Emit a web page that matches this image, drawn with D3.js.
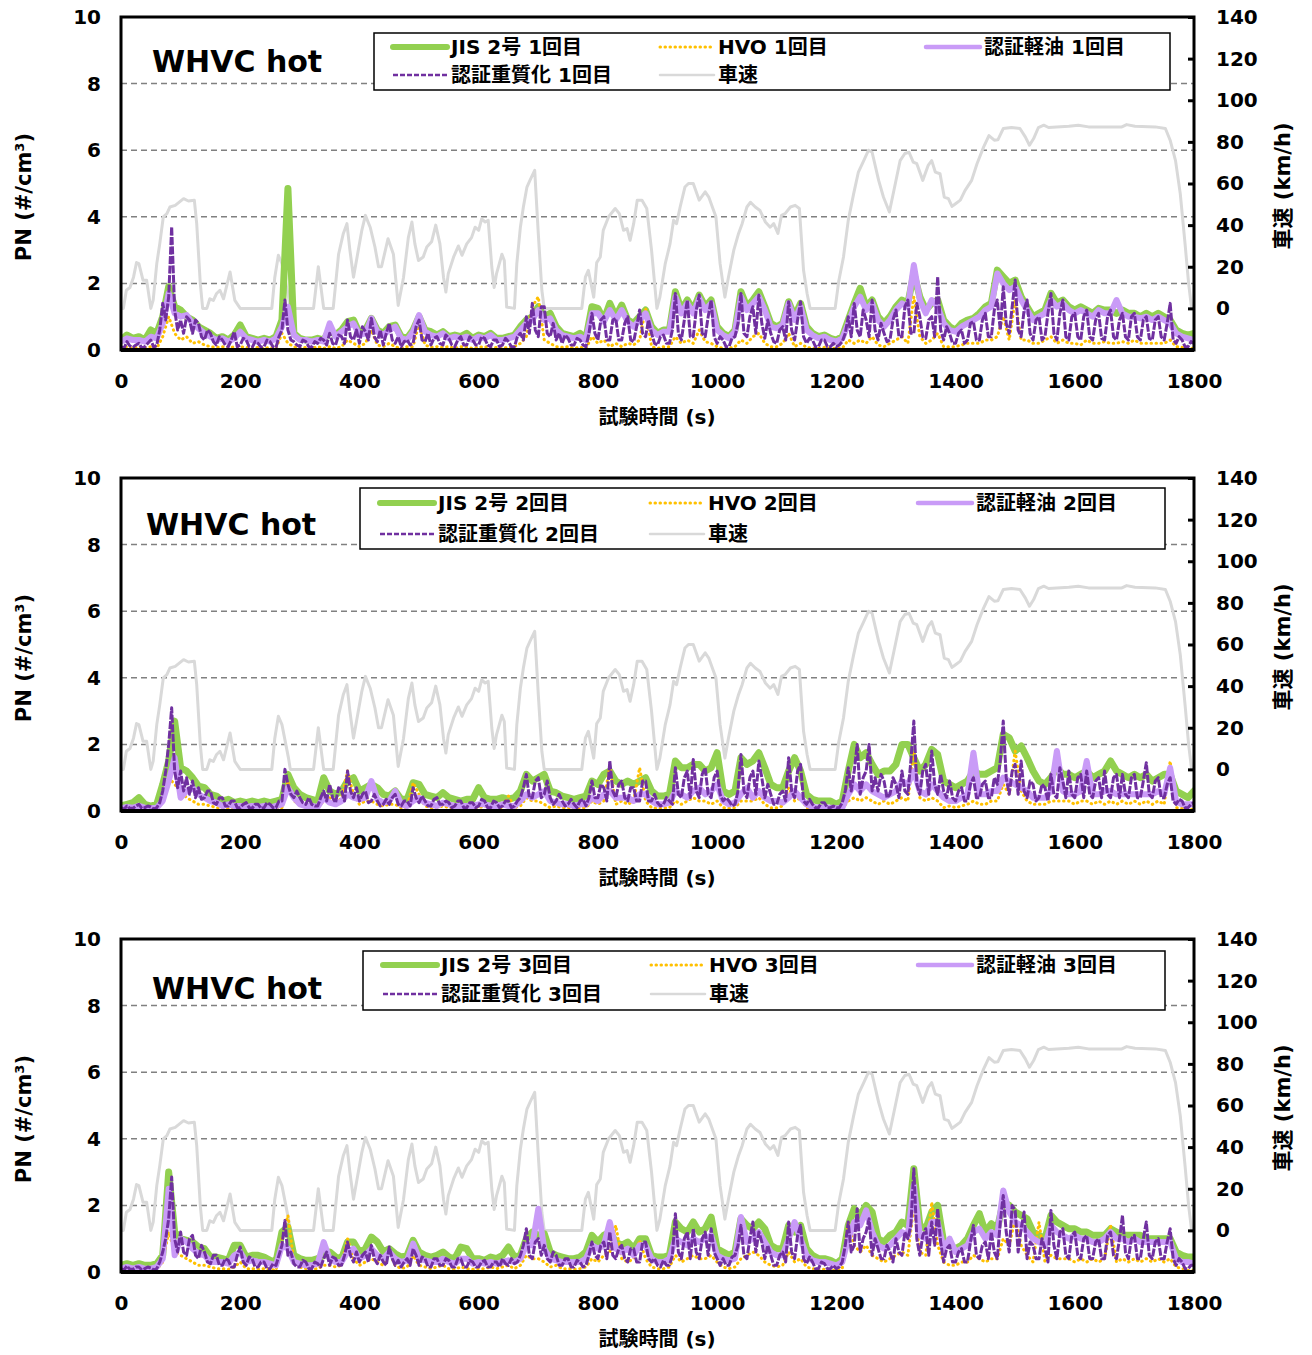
<!DOCTYPE html>
<html>
<head>
<meta charset="utf-8">
<script src="https://cdn.jsdelivr.net/npm/d3@7"></script>
<style>
  body { margin: 0; background: #fff; }
  text { font-family: "DejaVu Sans", "Noto Sans CJK JP", sans-serif; font-weight: bold; fill: #000; }
</style>
</head>
<body>
<svg id="chart" width="1312" height="1355"></svg>
<script>
// PN samples on an even grid over 0 .. 1800 s
// (10 s for most series, 5 s for the noisy 認証重質化 trace)
const T_END = 1800;

const timeTicks  = [0, 200, 400, 600, 800, 1000, 1200, 1400, 1600, 1800];
const pnTicks    = [0, 2, 4, 6, 8, 10];
const pnGrid     = [2, 4, 6, 8];
const speedTicks = [0, 20, 40, 60, 80, 100, 120, 140];

// WHVC vehicle speed, [time s, km/h] vertices
const speedTrace = [
  [0,0],[4,0],[9,8.7],[15,10],[21,15],[26,22],[30,21.5],[37,13.5],[43,13.5],[50,0],[54,4],[60,21.5],
  [65,31],[71,44],[77,45.5],[82,48.7],[91,49.5],[105,52.7],[113,51.6],[123,52],[127,40.7],[133,12],
  [137,0],[144,0],[149,4.6],[155,3.8],[160,7],[166,8.7],[172,4.6],[183,17.5],[191,3.8],[200,0],
  [253,0],[258,15],[264,25.5],[270,21.5],[281,5.4],[284,0],[323,0],[331,20],[340,0],[356,0],
  [365,26],[373,36],[379,40.7],[384,28],[390,15],[395,23],[404,37.5],[410,44.7],[418,39],[426,29.5],
  [432,20],[437,20],[448,33.5],[457,26],[465,1.4],[474,15],[482,34],[488,41.5],[493,31],[499,23],
  [507,24.7],[513,29.5],[521,32],[528,40],[535,31],[541,15],[545,7.9],[549,16.7],[558,24.7],[566,30],
  [572,25.5],[580,31],[588,34],[594,39],[600,37.5],[605,43],[611,41.5],[616,42.3],[622,20],[626,10],
  [630,16.7],[639,26],[643,23],[647,0.6],[660,0],[664,21.5],[670,39],[675,48.7],[681,58.3],[686,61.5],
  [694,66.3],[700,36],[706,8.7],[710,0],[773,0],[779,15],[784,18.3],[793,5.4],[798,22],[804,24.7],
  [809,37.5],[818,44],[829,48],[836,45.5],[843,37.5],[849,38.3],[854,32.7],[860,40.7],[866,52],[874,52],
  [882,48],[890,28],[899,0],[904,5.4],[913,21.5],[921,31],[927,42.3],[932,40.7],[938,48.7],[946,58.3],
  [952,60],[960,60],[970,52],[980,56],[986,53.5],[992,48.7],[998,44],[1005,21.5],[1013,5.4],[1019,15],
  [1028,28],[1036,36],[1042,40.7],[1050,48.7],[1056,51],[1064,48.7],[1072,47],[1081,41.5],[1089,39],
  [1095,40.7],[1102,36],[1108,44.7],[1114,45.5],[1123,48.7],[1131,49.5],[1138,48],[1145,18.3],[1151,7],
  [1156,0],[1198,0],[1204,13],[1212,24.7],[1220,42.3],[1229,55],[1237,65.5],[1246,71],[1254,76],[1260,75],
  [1271,61.5],[1279,53.5],[1289,46.3],[1299,60],[1307,71],[1315,74.4],[1322,75],[1329,70.3],[1335,69.5],
  [1345,61.5],[1354,68.7],[1360,71],[1366,65.5],[1374,64.7],[1381,53.5],[1388,52.7],[1394,49],[1400,50.3],
  [1408,52],[1416,56.7],[1427,61.5],[1436,69.5],[1447,77.5],[1456,83],[1465,80.8],[1471,81],[1480,86.4],
  [1494,86.9],[1508,86.4],[1517,82.4],[1524,78.4],[1531,81.6],[1539,86.9],[1548,88],[1556,86.9],[1590,87.5],
  [1606,88],[1623,87.2],[1679,87.2],[1687,88.3],[1701,87.5],[1735,87.2],[1752,86.4],[1760,80.8],[1769,71],
  [1777,55],[1785,31],[1791,11.9],[1796,0],[1800,0]
];

// ---- run 1 ----
const jis1 = [
  0.30,0.45,0.35,0.40,0.30,0.60,0.50,1.00,1.90,1.30,1.20,1.00,0.90,0.70,0.60,0.50,0.35,0.40,0.30,0.45,
  0.75,0.40,0.35,0.30,0.35,0.30,0.40,0.90,4.85,0.50,0.35,0.30,0.30,0.35,0.30,0.60,0.45,0.60,0.85,0.90,
  0.50,0.60,0.95,0.60,0.50,0.70,0.75,0.40,0.35,0.60,1.00,0.60,0.55,0.45,0.55,0.40,0.45,0.40,0.50,0.35,
  0.45,0.40,0.50,0.35,0.35,0.40,0.45,0.70,0.90,1.00,1.30,1.00,1.10,0.70,0.50,0.45,0.40,0.50,0.35,1.30,
  1.25,0.90,1.40,1.00,1.35,0.90,0.80,1.00,1.20,0.70,0.50,0.60,0.60,1.75,1.20,1.50,1.20,1.65,1.30,1.50,
  0.70,0.50,0.40,0.60,1.75,1.30,1.50,1.75,1.30,0.80,0.70,0.80,1.45,1.00,1.40,0.70,0.50,0.40,0.45,0.35,
  0.30,0.40,0.90,1.40,1.85,1.30,1.50,1.00,0.80,1.00,1.30,1.50,1.40,2.30,1.60,1.20,1.40,1.50,0.90,0.70,
  0.60,0.80,0.90,0.95,1.10,1.30,1.40,2.40,2.20,2.00,2.10,1.60,1.30,1.00,1.10,1.20,1.70,1.40,1.50,1.30,
  1.20,1.30,1.20,1.10,1.25,1.20,1.20,1.10,1.20,1.10,1.10,1.00,1.10,1.00,1.10,1.00,0.90,0.60,0.50,0.45,
  0.50
];
const hvo1 = [
  0.05,0.10,0.05,0.10,0.05,0.10,0.05,0.40,1.00,0.50,0.30,0.40,0.20,0.25,0.15,0.10,0.08,0.10,0.05,0.10,
  0.10,0.08,0.05,0.08,0.05,0.08,0.05,0.50,0.20,0.10,0.05,0.08,0.05,0.10,0.05,0.10,0.05,0.10,0.30,0.20,
  0.10,0.20,0.60,0.15,0.10,0.20,0.10,0.05,0.10,0.10,0.80,0.15,0.08,0.10,0.08,0.10,0.05,0.10,0.08,0.05,
  0.08,0.10,0.05,0.08,0.05,0.08,0.10,0.20,0.40,1.30,1.60,0.30,0.20,0.10,0.08,0.10,0.05,0.08,0.05,0.40,
  0.20,0.30,0.10,0.20,0.10,0.20,0.15,0.30,1.25,0.10,0.05,0.10,0.10,0.40,0.20,0.30,0.20,0.60,0.25,0.20,
  0.10,0.05,0.05,0.10,0.30,0.20,0.40,0.50,0.20,0.10,0.10,0.20,0.50,0.10,0.20,0.08,0.05,0.05,0.08,0.05,
  0.05,0.05,0.30,0.20,0.30,0.20,0.40,0.15,0.10,0.20,0.30,0.40,0.20,1.60,0.40,0.20,0.30,0.50,0.10,0.10,
  0.10,0.15,0.20,0.20,0.20,0.30,0.30,0.40,1.00,0.30,1.50,0.30,0.30,0.20,0.20,0.30,0.40,0.20,0.30,0.20,
  0.20,0.15,0.30,0.20,0.20,0.25,0.20,0.20,0.25,0.20,0.30,0.20,0.20,0.20,0.20,0.20,0.30,0.10,0.08,0.05,
  0.05
];
const kei1 = [
  0.25,0.35,0.30,0.30,0.25,0.40,0.35,0.80,1.70,1.10,1.00,1.05,0.80,0.65,0.50,0.40,0.30,0.35,0.25,0.35,
  0.55,0.35,0.30,0.25,0.30,0.25,0.35,0.70,1.30,0.45,0.30,0.30,0.25,0.30,0.25,0.80,0.40,0.55,0.70,0.80,
  0.45,0.50,0.95,0.55,0.45,0.60,0.70,0.35,0.30,0.55,1.05,0.55,0.45,0.40,0.50,0.35,0.40,0.35,0.40,0.30,
  0.40,0.35,0.45,0.30,0.30,0.35,0.40,0.60,0.80,0.90,1.20,0.90,0.95,0.60,0.45,0.40,0.35,0.40,0.30,1.10,
  1.10,0.85,1.20,0.90,1.20,0.85,0.70,0.90,1.10,0.60,0.45,0.55,0.55,1.60,1.10,1.40,1.10,1.55,1.20,1.40,
  0.60,0.45,0.35,0.55,1.60,1.20,1.40,1.60,1.20,0.70,0.65,0.75,1.40,0.90,1.30,0.60,0.45,0.35,0.40,0.30,
  0.25,0.35,0.80,1.30,1.60,1.20,1.40,0.90,0.70,0.90,1.20,1.40,1.30,2.55,1.50,1.10,1.50,1.30,0.80,0.60,
  0.55,0.70,0.80,0.90,1.00,1.20,1.30,2.30,2.00,1.80,1.90,1.50,1.20,0.90,1.00,1.10,1.50,1.30,1.40,1.20,
  1.10,1.20,1.10,1.00,1.20,1.10,1.10,1.50,1.10,1.00,1.00,0.95,1.00,0.90,1.00,0.90,0.80,0.50,0.40,0.35,
  0.30
];
const jyu1 = [
  0.10,0.05,0.25,0.12,0.08,0.15,0.20,0.06,0.10,0.20,0.30,0.08,0.15,0.60,1.40,0.90,1.60,3.70,1.20,0.60,
  0.90,0.50,1.00,0.90,0.50,0.90,0.80,0.40,0.30,0.60,0.50,0.25,0.15,0.40,0.30,0.15,0.10,0.30,0.55,0.10,
  0.15,0.35,0.30,0.10,0.08,0.25,0.20,0.08,0.10,0.30,0.25,0.10,0.08,0.40,0.60,1.50,0.60,0.30,0.25,0.15,
  0.10,0.30,0.25,0.10,0.08,0.25,0.20,0.35,0.30,0.15,0.50,0.20,0.15,0.45,0.40,0.20,0.90,0.40,0.30,0.60,
  0.20,0.70,0.55,0.30,0.95,0.40,0.25,0.60,0.15,0.50,0.80,0.30,0.20,0.40,0.10,0.25,0.30,0.15,0.20,0.70,
  0.90,0.30,0.25,0.50,0.15,0.35,0.40,0.20,0.15,0.45,0.35,0.15,0.10,0.30,0.40,0.15,0.15,0.40,0.30,0.15,
  0.15,0.40,0.35,0.15,0.10,0.30,0.30,0.10,0.15,0.35,0.25,0.10,0.10,0.40,0.50,0.30,1.00,0.50,1.40,0.60,
  0.40,1.30,1.30,0.50,0.40,0.80,0.30,0.50,0.20,0.45,0.35,0.15,0.15,0.35,0.30,0.15,0.10,0.50,1.10,0.50,
  0.30,0.90,1.00,0.30,0.30,0.90,0.95,0.30,0.30,0.80,1.00,0.30,0.25,0.70,1.20,0.50,0.40,0.90,0.50,0.20,
  0.15,0.40,0.45,0.20,0.20,0.60,1.70,0.50,0.30,0.90,1.50,0.40,0.40,1.20,1.65,0.50,0.40,1.00,1.50,0.40,
  0.20,0.40,0.30,0.10,0.10,0.35,0.40,0.80,1.70,0.50,0.40,1.00,1.30,0.50,1.65,0.80,0.35,0.90,0.50,0.25,
  0.20,0.60,0.70,0.30,1.45,0.60,0.30,0.90,1.45,0.40,0.20,0.35,0.30,0.10,0.10,0.30,0.30,0.10,0.10,0.20,
  0.10,0.15,0.25,0.50,1.00,0.40,1.40,0.60,0.40,1.20,0.90,0.40,1.50,0.60,0.30,0.80,0.50,0.25,0.30,0.90,
  1.20,0.40,0.40,1.30,1.50,0.50,0.50,1.40,1.00,0.40,0.35,0.90,1.00,0.40,2.20,0.60,0.30,0.70,0.50,0.20,
  0.20,0.50,0.60,0.20,0.30,0.80,0.85,0.30,0.30,0.90,1.10,0.40,0.40,1.20,1.50,0.60,1.90,0.80,0.50,1.30,
  2.10,0.60,0.40,1.20,1.50,0.50,0.30,0.90,1.00,0.30,0.40,1.10,1.70,0.50,0.30,1.10,1.50,0.40,0.30,1.00,
  1.10,0.40,0.30,1.00,1.20,0.40,0.30,0.90,1.10,0.35,0.30,1.00,1.20,0.40,0.30,0.90,1.10,0.40,0.30,1.00,
  1.10,0.40,0.30,0.90,1.00,0.35,0.30,0.90,1.00,0.40,0.30,0.80,1.40,0.30,0.20,0.40,0.30,0.10,0.10,0.25,
  0.20
];

// ---- run 2 ----
const jis2 = [
  0.15,0.20,0.25,0.40,0.20,0.15,0.20,0.80,1.50,2.70,1.30,1.20,1.00,0.75,0.70,0.50,0.45,0.30,0.35,0.25,
  0.30,0.25,0.30,0.25,0.30,0.25,0.30,0.35,1.10,0.70,0.50,0.40,0.35,0.30,1.00,0.60,0.50,0.60,0.90,1.00,
  0.60,0.70,0.80,0.70,0.50,0.45,0.60,0.35,0.35,0.85,0.80,0.50,0.45,0.40,0.55,0.40,0.35,0.30,0.35,0.35,
  0.70,0.40,0.35,0.35,0.40,0.35,0.40,0.60,1.10,0.90,1.00,1.10,0.60,0.55,0.45,0.40,0.35,0.40,0.45,0.90,
  0.80,1.10,1.20,0.90,0.80,0.90,0.80,0.90,1.00,0.60,0.45,0.45,0.50,1.50,1.30,1.30,1.40,1.40,1.20,1.30,
  1.75,0.60,0.50,0.60,1.60,1.40,1.50,1.75,1.30,0.80,0.70,0.70,1.20,1.60,1.20,0.50,0.35,0.30,0.30,0.30,
  0.20,0.30,1.20,2.00,1.60,1.75,1.40,1.10,1.20,1.20,1.40,2.00,2.00,1.60,1.20,1.40,1.85,1.70,0.90,0.80,
  0.70,0.80,0.90,1.20,1.10,1.10,1.20,1.30,2.30,2.20,1.80,1.95,1.60,1.20,0.90,0.80,1.00,1.30,1.10,1.10,
  1.00,1.10,1.20,1.00,1.10,1.20,1.50,1.20,1.10,1.00,1.10,1.00,1.10,0.90,1.00,1.10,1.10,0.60,0.50,0.40,
  0.60
];
const hvo2 = [
  0.05,0.08,0.05,0.10,0.05,0.05,0.08,0.30,1.00,0.80,0.60,0.40,0.30,0.20,0.20,0.15,0.10,0.10,0.08,0.10,
  0.08,0.10,0.05,0.08,0.05,0.08,0.05,0.10,0.90,0.30,0.20,0.10,0.08,0.10,0.30,0.40,0.20,0.40,1.20,0.50,
  0.20,0.30,0.30,0.20,0.15,0.20,0.20,0.10,0.10,0.85,0.50,0.15,0.10,0.10,0.15,0.10,0.08,0.10,0.08,0.10,
  0.10,0.15,0.10,0.10,0.10,0.45,0.10,0.15,0.40,0.30,0.30,0.20,0.10,0.15,0.10,0.10,0.08,0.10,0.10,0.30,
  0.20,0.30,1.35,0.20,0.30,0.20,0.30,1.30,0.30,0.10,0.08,0.10,0.10,0.30,0.20,0.30,0.40,0.30,0.30,0.20,
  0.30,0.10,0.08,0.10,0.30,0.30,0.30,0.40,0.20,0.10,0.10,0.15,0.70,0.30,0.40,0.10,0.05,0.05,0.05,0.05,
  0.05,0.08,0.30,0.40,0.30,0.40,0.30,0.20,0.30,0.20,0.30,0.40,0.30,1.80,0.40,0.30,0.40,0.30,0.10,0.15,
  0.10,0.15,0.20,0.30,0.20,0.20,0.30,0.30,0.80,0.50,1.80,0.60,0.30,0.20,0.20,0.20,0.30,0.30,0.30,0.30,
  0.20,0.30,0.30,0.20,0.30,0.20,0.30,0.20,0.30,0.20,0.30,0.20,0.30,0.20,0.30,0.20,1.50,0.10,0.08,0.05,
  0.05
];
const kei2 = [
  0.08,0.12,0.10,0.15,0.10,0.08,0.10,0.30,0.90,1.60,0.40,0.60,0.70,0.50,0.40,0.30,0.25,0.15,0.20,0.15,
  0.15,0.12,0.15,0.12,0.15,0.10,0.15,0.20,0.70,0.40,0.20,0.15,0.15,0.12,0.40,0.25,0.20,0.30,0.50,0.40,
  0.35,0.40,0.90,0.35,0.25,0.30,0.60,0.20,0.15,0.30,0.40,0.25,0.20,0.15,0.25,0.20,0.15,0.15,0.15,0.15,
  0.20,0.20,0.15,0.15,0.20,0.15,0.15,0.30,0.50,0.40,0.50,0.60,0.30,0.25,0.20,0.20,0.15,0.20,0.20,0.40,
  0.30,0.50,0.60,0.40,0.40,0.40,0.30,0.50,0.50,0.30,0.20,0.20,0.25,0.60,0.50,0.40,0.60,0.70,0.50,0.60,
  0.80,0.30,0.20,0.25,0.50,0.70,0.40,0.60,0.40,0.30,0.30,0.25,0.40,0.60,0.40,0.20,0.12,0.10,0.10,0.10,
  0.08,0.10,0.50,0.80,0.60,0.80,0.60,0.50,0.40,0.50,0.60,0.90,0.80,1.20,0.60,0.50,0.80,0.60,0.40,0.30,
  0.30,0.40,0.50,1.75,0.50,0.50,0.60,0.60,1.00,0.90,0.80,0.70,0.60,0.40,0.40,0.40,0.60,1.80,0.60,0.50,
  0.50,0.60,1.50,0.50,0.50,0.60,0.60,0.50,0.50,0.50,0.50,0.50,0.50,0.50,0.60,0.50,1.30,0.30,0.20,0.20,
  0.20
];
const jyu2 = [
  0.10,0.05,0.15,0.08,0.08,0.15,0.20,0.08,0.10,0.15,0.12,0.06,0.10,0.25,0.60,1.20,2.00,3.10,1.20,0.70,
  1.20,0.60,1.00,0.50,0.90,0.40,0.70,0.35,0.40,0.60,0.60,0.25,0.20,0.40,0.40,0.15,0.15,0.30,0.30,0.10,
  0.10,0.20,0.25,0.10,0.08,0.20,0.20,0.08,0.10,0.25,0.20,0.10,0.10,0.30,0.30,1.25,0.80,0.50,0.40,0.60,
  0.40,0.25,0.20,0.40,0.20,0.15,0.15,0.40,0.60,0.30,0.80,0.40,0.25,0.70,0.60,0.30,1.20,0.60,0.40,0.70,
  0.30,0.50,0.60,0.25,0.30,0.50,0.30,0.15,0.20,0.35,0.20,0.40,0.50,0.20,0.15,0.30,0.30,0.15,0.70,0.40,
  0.25,0.45,0.30,0.15,0.15,0.35,0.40,0.20,0.20,0.30,0.25,0.10,0.15,0.30,0.30,0.10,0.10,0.25,0.25,0.10,
  0.15,0.35,0.30,0.10,0.10,0.30,0.25,0.10,0.15,0.30,0.30,0.10,0.15,0.30,0.40,0.70,1.10,0.40,0.40,0.90,
  1.00,0.40,0.50,0.90,0.40,0.20,0.30,0.50,0.30,0.15,0.20,0.35,0.20,0.10,0.30,0.35,0.15,0.40,0.90,0.40,
  0.40,0.80,0.70,0.30,1.50,0.60,0.40,0.80,0.90,0.40,0.30,0.70,0.70,0.30,0.30,0.90,0.90,0.30,0.30,0.50,
  0.25,0.15,0.20,0.40,0.30,0.20,1.30,0.50,0.40,1.00,1.20,0.40,1.55,0.60,0.40,1.10,1.30,0.50,0.40,1.00,
  1.20,0.50,0.30,0.40,0.30,0.15,0.20,0.60,1.70,0.60,0.40,1.00,1.20,0.50,1.50,1.00,0.40,0.80,0.50,0.20,
  0.20,0.50,0.60,0.30,1.60,0.60,0.40,1.20,1.40,0.30,0.20,0.35,0.20,0.10,0.10,0.25,0.25,0.10,0.10,0.15,
  0.10,0.10,0.25,0.60,1.30,0.60,1.20,2.00,0.50,1.00,1.20,2.00,0.60,1.00,0.60,1.10,0.90,0.40,0.50,1.00,
  0.80,0.40,1.20,0.60,0.50,1.50,2.70,0.80,0.50,1.20,1.40,0.50,1.80,0.80,0.50,1.10,0.60,0.40,0.90,0.40,
  0.30,0.60,0.70,0.30,0.30,0.80,1.00,0.40,0.40,0.80,0.90,0.40,0.40,1.00,0.80,1.50,2.70,1.00,0.50,1.20,
  1.40,0.50,1.50,0.60,0.40,0.90,0.80,0.30,0.40,0.80,0.70,0.30,1.10,0.50,0.40,1.30,0.90,0.40,1.20,0.50,
  0.40,1.00,1.10,0.40,1.20,0.50,0.40,0.90,1.00,0.40,1.20,0.50,0.40,1.00,1.10,0.40,1.10,0.50,0.40,1.00,
  1.10,0.40,0.40,0.90,1.45,0.50,0.40,0.90,1.00,0.40,0.40,0.80,1.00,0.30,0.20,0.35,0.30,0.10,0.10,0.20,
  0.25
];

// ---- run 3 ----
const jis3 = [
  0.20,0.25,0.20,0.25,0.20,0.20,0.25,0.50,3.00,1.20,1.00,0.95,0.90,0.75,0.70,0.45,0.45,0.40,0.35,0.80,
  0.80,0.45,0.50,0.50,0.45,0.35,0.30,1.20,1.35,0.50,0.40,0.35,0.35,0.40,0.50,0.60,0.45,0.40,0.90,0.90,
  0.60,0.70,1.05,0.90,0.60,0.70,0.55,0.45,0.50,0.95,0.60,0.50,0.45,0.50,0.60,0.45,0.40,0.75,0.70,0.40,
  0.40,0.35,0.45,0.40,0.50,0.75,0.45,0.50,1.00,1.20,1.10,1.15,0.60,0.50,0.45,0.40,0.40,0.45,0.60,1.10,
  0.90,1.10,1.20,0.90,0.80,0.90,0.70,1.00,1.00,0.50,0.45,0.45,0.50,1.50,1.30,1.20,1.50,1.20,1.30,1.65,
  0.70,0.60,0.50,0.60,1.60,1.40,1.30,1.50,1.30,0.80,0.70,0.70,1.40,1.20,1.40,0.70,0.50,0.40,0.40,0.35,
  0.25,0.40,1.40,1.90,1.70,2.00,1.80,1.00,0.90,1.10,1.20,1.50,1.40,3.10,1.40,1.30,1.80,2.00,0.90,0.80,
  0.70,0.80,1.00,1.40,1.75,1.20,1.45,1.30,2.10,2.00,1.80,1.70,1.60,1.20,1.10,1.00,1.70,1.50,1.40,1.30,
  1.30,1.20,1.20,1.10,1.10,1.10,1.30,1.20,1.10,1.10,1.10,1.10,1.00,1.00,1.00,1.00,1.00,0.60,0.50,0.45,
  0.45
];
const hvo3 = [
  0.05,0.10,0.05,0.08,0.05,0.05,0.08,0.30,1.20,0.60,0.50,0.40,0.30,0.20,0.20,0.15,0.10,0.10,0.08,0.15,
  0.30,0.10,0.10,0.08,0.10,0.08,0.05,1.00,1.70,0.30,0.15,0.10,0.08,0.10,0.20,0.20,0.15,0.20,1.00,0.40,
  0.20,0.30,0.40,0.30,0.20,0.60,0.20,0.10,0.15,0.50,0.20,0.15,0.10,0.15,0.20,0.10,0.08,0.15,0.10,0.08,
  0.10,0.10,0.15,0.10,0.15,0.20,0.10,0.20,0.50,0.40,0.40,0.30,0.15,0.20,0.10,0.10,0.08,0.10,0.15,0.40,
  0.30,0.50,0.60,1.40,0.40,0.30,0.40,0.95,0.40,0.15,0.10,0.10,0.15,0.50,0.30,0.40,0.50,0.40,0.40,0.50,
  0.30,0.15,0.10,0.15,0.40,0.50,0.60,0.50,0.30,0.20,0.15,0.20,0.60,0.30,0.40,0.15,0.10,0.08,0.08,0.05,
  0.05,0.10,1.50,0.80,0.60,0.80,0.50,0.40,0.30,0.40,0.50,0.60,0.50,2.00,0.60,0.50,2.10,0.80,0.30,0.20,
  0.20,0.30,0.30,0.50,0.40,0.30,0.40,0.40,1.00,0.80,1.60,0.80,0.50,0.30,1.50,0.30,0.50,0.40,0.40,0.40,
  0.30,0.40,0.30,0.40,0.30,0.40,1.40,0.30,0.40,0.30,0.40,0.30,0.40,0.30,0.40,0.30,0.40,0.15,0.10,0.05,
  0.05
];
const kei3 = [
  0.10,0.15,0.10,0.15,0.10,0.10,0.15,0.40,2.50,0.50,1.00,0.90,0.70,0.55,0.50,0.30,0.30,0.30,0.25,0.50,
  0.60,0.30,0.35,0.30,0.30,0.25,0.20,0.80,0.70,0.30,0.25,0.20,0.20,0.25,0.90,0.40,0.30,0.30,0.60,0.70,
  0.40,0.50,0.70,0.50,0.40,0.60,0.40,0.30,0.35,0.85,0.40,0.35,0.30,0.30,0.40,0.30,0.25,0.40,0.40,0.25,
  0.30,0.25,0.30,0.25,0.30,0.35,0.30,0.40,0.80,0.80,1.90,0.70,0.40,0.35,0.30,0.30,0.30,0.30,0.40,0.80,
  0.70,0.80,1.50,0.70,0.60,0.70,0.50,0.80,0.80,0.40,0.30,0.30,0.40,1.00,0.90,0.80,1.00,0.90,1.00,1.10,
  0.50,0.40,0.35,0.40,1.65,0.90,1.00,1.20,0.90,0.60,0.50,0.50,1.00,1.50,1.00,0.50,0.35,0.30,0.30,0.25,
  0.20,0.30,1.00,1.50,1.40,1.85,1.20,0.80,0.70,0.80,1.00,1.20,1.10,2.60,1.10,1.00,1.50,1.50,0.70,1.00,
  0.60,0.70,0.80,1.20,1.30,1.00,1.20,1.10,2.45,1.80,1.50,1.40,1.20,1.00,0.90,0.80,1.40,1.20,1.10,1.00,
  1.10,1.00,1.00,0.90,0.90,1.00,1.20,1.00,1.00,0.90,1.00,0.90,0.90,0.90,0.90,0.90,0.90,0.40,0.30,0.30,
  0.25
];
const jyu3 = [
  0.10,0.06,0.18,0.08,0.08,0.15,0.15,0.06,0.10,0.15,0.12,0.06,0.10,0.30,0.60,1.00,1.60,2.85,1.00,0.60,
  1.20,0.60,0.50,1.00,1.10,0.50,0.40,0.80,0.60,0.30,0.25,0.50,0.50,0.20,0.20,0.40,0.35,0.15,0.15,0.50,
  0.75,0.30,0.20,0.45,0.40,0.15,0.15,0.30,0.30,0.10,0.10,0.25,0.20,0.50,0.80,1.55,0.50,0.60,0.25,0.15,
  0.15,0.35,0.30,0.10,0.10,0.30,0.25,0.15,0.40,0.60,0.20,0.45,0.40,0.20,0.20,0.50,0.90,0.50,0.30,0.60,
  0.30,0.50,0.60,0.30,0.80,0.40,0.25,0.50,0.30,0.20,0.75,0.40,0.20,0.35,0.15,0.30,0.40,0.20,0.70,0.50,
  0.20,0.45,0.40,0.15,0.15,0.40,0.40,0.20,0.20,0.40,0.35,0.15,0.15,0.40,0.40,0.15,0.15,0.35,0.30,0.15,
  0.15,0.30,0.35,0.15,0.15,0.30,0.30,0.15,0.40,0.25,0.20,0.40,0.25,0.30,0.50,0.80,1.30,0.50,0.40,0.90,
  1.00,0.50,0.80,0.40,0.30,0.60,0.50,0.20,0.20,0.40,0.40,0.15,0.15,0.35,0.30,0.15,0.20,0.50,0.90,0.50,
  0.40,0.80,0.90,0.40,1.20,0.50,0.40,0.70,0.80,0.40,0.30,0.70,0.70,0.30,0.30,0.90,0.90,0.40,0.30,0.40,
  0.20,0.15,0.35,0.20,0.20,0.50,1.75,0.60,0.40,1.00,1.20,0.40,1.30,0.60,0.40,1.00,1.20,0.50,1.30,0.60,
  0.40,0.20,0.40,0.20,0.20,0.45,0.50,0.80,1.40,0.50,0.40,1.00,1.50,0.60,1.20,0.90,0.40,0.80,0.50,0.20,
  0.20,0.50,0.60,0.30,1.50,0.60,0.40,1.10,1.40,0.40,0.25,0.45,0.30,0.10,0.10,0.30,0.25,0.10,0.10,0.20,
  0.10,0.15,0.30,0.80,1.50,0.60,0.80,1.90,0.60,1.00,1.20,1.60,0.50,1.00,0.70,0.40,0.40,0.80,0.60,0.30,
  1.00,0.60,0.50,1.20,1.00,1.40,3.10,1.00,0.50,1.10,1.30,0.50,1.50,0.80,1.90,0.90,0.30,0.70,0.80,0.30,
  0.30,0.60,0.70,0.30,0.30,0.90,1.40,0.50,0.40,0.80,0.90,0.40,1.20,0.60,0.40,1.50,2.30,1.20,0.60,2.00,
  1.85,0.60,1.30,1.80,0.40,0.90,0.80,0.40,0.40,1.00,0.70,0.30,1.85,0.80,0.40,1.20,1.30,0.50,0.40,1.10,
  1.20,0.50,0.40,1.00,1.10,0.40,0.40,0.90,1.00,0.40,0.40,1.10,1.20,0.50,0.40,1.00,1.70,0.60,0.40,1.00,
  1.10,0.40,0.40,1.00,1.50,0.50,0.40,0.90,1.00,0.40,0.40,0.90,1.30,0.40,0.20,0.40,0.30,0.10,0.10,0.20,
  0.20
];

const runs = [
  { no: '1', jis: jis1, hvo: hvo1, kei: kei1, jyu: jyu1 },
  { no: '2', jis: jis2, hvo: hvo2, kei: kei2, jyu: jyu2 },
  { no: '3', jis: jis3, hvo: hvo3, kei: kei3, jyu: jyu3 }
];

// layout of the three stacked panels
const panels = [
  { top: 17,  titleX: 152, titleY: 72,  box: [374, 33, 796, 57],  c1: 393, c2: 660, c3: 926, r1: 47,  r2: 75 },
  { top: 478, titleX: 146, titleY: 535, box: [360, 488, 805, 61], c1: 380, c2: 650, c3: 918, r1: 503, r2: 534 },
  { top: 939, titleX: 152, titleY: 999, box: [363, 951, 802, 59], c1: 383, c2: 651, c3: 918, r1: 965, r2: 994 }
];

const X0 = 121, X1 = 1194, PH = 333;

const styles = {
  jis:   { stroke: '#92D050', width: 7,   dash: null,      cap: 'round' },
  hvo:   { stroke: '#FFC000', width: 3,   dash: '0.5,4.5', cap: 'round' },
  kei:   { stroke: '#C99BF7', width: 6,   dash: null,      cap: 'round' },
  jyu:   { stroke: '#7030A0', width: 3,   dash: '8,1.5',   cap: 'butt' },
  speed: { stroke: '#D9D9D9', width: 3,   dash: null,      cap: 'round' }
};
// legend samples use the same colours, a little lighter weight for the PN runs
const legendWidth = { jis: 6, hvo: 3, kei: 4.5, jyu: 2.4, speed: 2.5 };
const legendDash  = { jis: null, hvo: '0.5,4.5', kei: null, jyu: '5,2', speed: null };

const svg = d3.select('#chart');
const x = d3.scaleLinear().domain([0, T_END]).range([X0, X1]);

function styleLine(sel, s) {
  sel.attr('fill', 'none')
    .attr('stroke', s.stroke)
    .attr('stroke-width', s.width)
    .attr('stroke-linecap', s.cap)
    .attr('stroke-linejoin', 'round')
    .attr('stroke-dasharray', s.dash);
}

panels.forEach((p, k) => {
  const run = runs[k];
  const top = p.top, bottom = p.top + PH;
  const yL = d3.scaleLinear().domain([0, 10]).range([bottom, top]);
  const yR = d3.scaleLinear().domain([-20, 140]).range([bottom, top]);

  const clipId = 'clip' + k;
  svg.append('clipPath').attr('id', clipId)
    .append('rect').attr('x', X0).attr('y', top).attr('width', X1 - X0).attr('height', PH);

  // dashed grid
  svg.append('g').selectAll('line')
    .data(pnGrid)
    .join('line')
    .attr('x1', X0).attr('x2', X1)
    .attr('y1', d => yL(d)).attr('y2', d => yL(d))
    .attr('stroke', '#808080')
    .attr('stroke-width', 1.5)
    .attr('stroke-dasharray', '6,4');

  const plot = svg.append('g').attr('clip-path', `url(#${clipId})`);

  // speed on the secondary axis, behind PN
  plot.append('path')
    .datum(speedTrace)
    .attr('d', d3.line().x(d => x(d[0])).y(d => yR(d[1])))
    .call(styleLine, styles.speed);

  ['jis', 'hvo', 'kei', 'jyu'].forEach(key => {
    const vals = run[key];
    const step = T_END / (vals.length - 1);
    plot.append('path')
      .datum(vals)
      .attr('d', d3.line().x((d, i) => x(i * step)).y(d => yL(d)))
      .call(styleLine, styles[key]);
  });

  // frame
  svg.append('rect')
    .attr('x', X0).attr('y', top).attr('width', X1 - X0).attr('height', PH)
    .attr('fill', 'none').attr('stroke', '#000').attr('stroke-width', 3);
  svg.append('line')
    .attr('x1', X0).attr('x2', X1).attr('y1', bottom).attr('y2', bottom)
    .attr('stroke', '#000').attr('stroke-width', 4);

  // axes
  const left = svg.append('g').attr('transform', `translate(${X0},0)`)
    .call(d3.axisLeft(yL).tickValues(pnTicks).tickSize(0).tickPadding(20));
  const bot = svg.append('g').attr('transform', `translate(0,${bottom})`)
    .call(d3.axisBottom(x).tickValues(timeTicks).tickFormat(d3.format('d')).tickSize(0).tickPadding(24));
  const right = svg.append('g').attr('transform', `translate(${X1},0)`)
    .call(d3.axisRight(yR).tickValues(speedTicks).tickSizeInner(-6).tickSizeOuter(0).tickPadding(22));
  [left, bot, right].forEach(a => {
    a.attr('font-size', 20);
    a.select('.domain').remove();
  });
  right.selectAll('.tick line').attr('stroke-width', 3);

  // axis titles
  svg.append('text')
    .attr('transform', `translate(24,${top + 180}) rotate(-90)`)
    .attr('text-anchor', 'middle').attr('dy', '0.35em')
    .attr('font-size', 21)
    .text('PN (#/cm³)');
  svg.append('text')
    .attr('transform', `translate(1283,${top + 169}) rotate(-90)`)
    .attr('text-anchor', 'middle').attr('dy', '0.35em')
    .attr('font-size', 21)
    .text('車速 (km/h)');
  svg.append('text')
    .attr('x', 657).attr('y', bottom + 67)
    .attr('text-anchor', 'middle').attr('dy', '0.35em')
    .attr('font-size', 20)
    .text('試験時間 (s)');

  svg.append('text')
    .attr('x', p.titleX).attr('y', p.titleY)
    .attr('font-size', 30)
    .text('WHVC hot');

  // legend
  const lg = svg.append('g');
  lg.append('rect')
    .attr('x', p.box[0]).attr('y', p.box[1]).attr('width', p.box[2]).attr('height', p.box[3])
    .attr('fill', '#fff').attr('stroke', '#000').attr('stroke-width', 1.5);
  const items = [
    { key: 'jis',   label: `JIS 2号 ${run.no}回目`,    cx: p.c1, cy: p.r1 },
    { key: 'hvo',   label: `HVO ${run.no}回目`,        cx: p.c2, cy: p.r1 },
    { key: 'kei',   label: `認証軽油 ${run.no}回目`,   cx: p.c3, cy: p.r1 },
    { key: 'jyu',   label: `認証重質化 ${run.no}回目`, cx: p.c1, cy: p.r2 },
    { key: 'speed', label: '車速',                     cx: p.c2, cy: p.r2 }
  ];
  items.forEach(it => {
    lg.append('line')
      .attr('x1', it.cx).attr('x2', it.cx + 54)
      .attr('y1', it.cy).attr('y2', it.cy)
      .call(styleLine, Object.assign({}, styles[it.key],
        { width: legendWidth[it.key], dash: legendDash[it.key] }));
    lg.append('text')
      .attr('x', it.cx + 58).attr('y', it.cy)
      .attr('dy', '0.36em')
      .attr('font-size', 20)
      .text(it.label);
  });
});
</script>
</body>
</html>
